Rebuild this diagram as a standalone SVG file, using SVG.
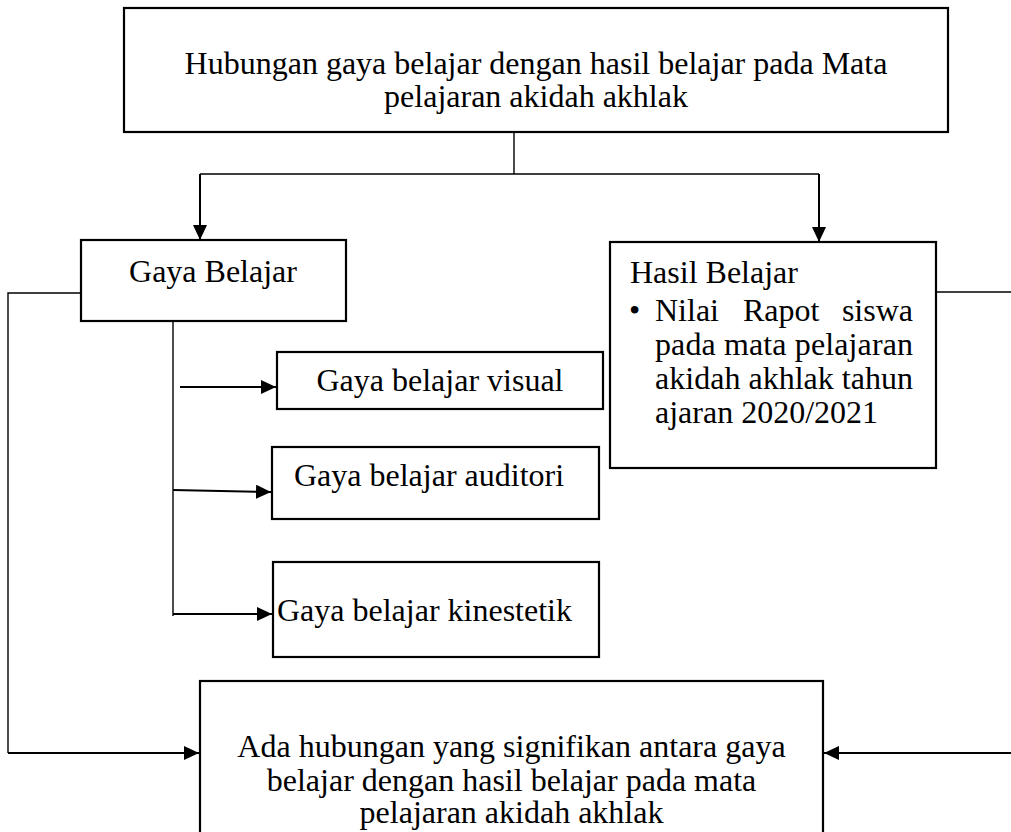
<svg xmlns="http://www.w3.org/2000/svg" width="1011" height="832" viewBox="0 0 1011 832">
<style>
.box{fill:#fff;stroke:#000;stroke-width:2.2}
.t{font-family:"Liberation Serif","Times New Roman",serif;font-size:32px;fill:#000}
.c{text-anchor:middle}
.ln{fill:none;stroke:#000;stroke-width:1.4}
.ar{fill:none;stroke:#000;stroke-width:2;marker-end:url(#ah)}
</style>
<defs>
<marker id="ah" markerUnits="userSpaceOnUse" markerWidth="16" markerHeight="14" refX="15" refY="7" orient="auto">
<path d="M0,0 L15,7 L0,14 z" fill="#000"/>
</marker>
</defs>
<rect width="1011" height="832" fill="#fff"/>
<g id="connectors">
<path class="ln" d="M514,128 V174 M200,174 H819"/>
<path class="ar" d="M200,174 V240"/>
<path class="ar" d="M819,174 V242"/>
<path class="ln" d="M173,321 V616"/>
<path class="ar" d="M180,387 H276"/>
<path class="ar" d="M173,490 L271,492"/>
<path class="ar" d="M173,614 H272"/>
<path class="ln" d="M81,293 H8 V753"/>
<path class="ar" d="M8,753 H199"/>
<path class="ln" d="M936,292 H1011"/>
<path class="ar" d="M1011,753 H824"/>
</g>
<g id="node-top">
<rect class="box" x="124" y="8" width="824" height="124"/>
<text class="t c" x="536" y="74">Hubungan gaya belajar dengan hasil belajar pada Mata</text>
<text class="t c" x="536" y="107">pelajaran akidah akhlak</text>
</g>
<g id="node-gaya">
<rect class="box" x="81" y="240" width="265" height="81"/>
<text class="t c" x="213" y="282">Gaya Belajar</text>
</g>
<g id="node-hasil">
<rect class="box" x="610" y="242" width="326" height="226"/>
<text class="t" x="630" y="283">Hasil Belajar</text>
<text class="t" x="629" y="321">•</text>
<text class="t" x="655" y="321">Nilai</text>
<text class="t" x="743" y="321">Rapot</text>
<text class="t" x="913" y="321" text-anchor="end">siswa</text>
<text class="t" x="655" y="355" textLength="258" lengthAdjust="spacing">pada mata pelajaran</text>
<text class="t" x="655" y="389" textLength="258" lengthAdjust="spacing">akidah akhlak tahun</text>
<text class="t" x="655" y="423">ajaran 2020/2021</text>
</g>
<g id="node-visual">
<rect class="box" x="277" y="352" width="326" height="57"/>
<text class="t c" x="440" y="391">Gaya belajar visual</text>
</g>
<g id="node-auditori">
<rect class="box" x="272" y="447" width="327" height="72"/>
<text class="t" x="294" y="486">Gaya belajar auditori</text>
</g>
<g id="node-kinestetik">
<rect class="box" x="273" y="562" width="326" height="95"/>
<text class="t" x="277" y="621">Gaya belajar kinestetik</text>
</g>
<g id="node-kesimpulan">
<rect class="box" x="200" y="681" width="623" height="170"/>
<text class="t c" x="511.5" y="757">Ada hubungan yang signifikan antara gaya</text>
<text class="t c" x="511.5" y="791">belajar dengan hasil belajar pada mata</text>
<text class="t c" x="511.5" y="823">pelajaran akidah akhlak</text>
</g>
</svg>
